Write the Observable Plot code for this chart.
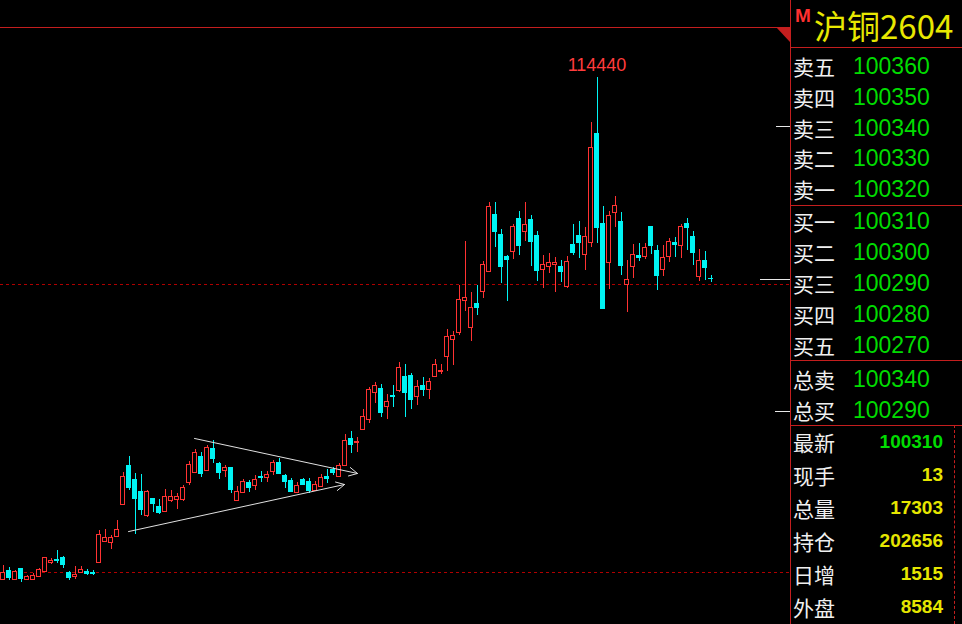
<!DOCTYPE html>
<html><head><meta charset="utf-8">
<script src="https://cdn.jsdelivr.net/npm/d3@7"></script>
<script src="https://cdn.jsdelivr.net/npm/@observablehq/plot@0.6"></script>
<style>
html,body{margin:0;padding:0;background:#000;width:962px;height:624px;overflow:hidden;}
#wrap{position:relative;width:962px;height:624px;background:#000;}
#chart{position:absolute;left:0;top:0;}
.ln{position:absolute;background:#c41e1e;}
.lab{position:absolute;left:793px;font-family:"Noto Sans CJK SC";font-size:21px;color:#f0f0f0;height:30px;line-height:30px;white-space:nowrap;}
.val{position:absolute;left:853px;font-family:"Liberation Sans",Arial,sans-serif;font-size:23px;color:#00dc00;height:30px;line-height:30px;}
.val2{position:absolute;right:19px;font-family:"Liberation Sans",Arial,sans-serif;font-weight:bold;font-size:19px;color:#e6e600;height:30px;line-height:30px;text-align:right;}
</style>
</head><body>
<div id="wrap"><div id="chart"></div></div>
<script>
// ---- candle data (price units) ----
const opens = [80270,80880,80270,81020,80270,80270,80470,80810,81360,81630,81770,80750,80410,80680,80810,80750,81360,82850,82720,83130,
85370,88020,87070,86250,84620,85780,85230,84890,85640,85710,85710,86800,87480,88630,87680,89180,88160,87680,87890,85640,
86120,86870,86660,87270,87140,87550,88230,87340,87000,86120,87070,86930,86320,86590,87270,87750,87270,88020,89860,89520,
90470,91150,92920,93260,92030,92780,93120,94070,94140,92710,93460,93190,94010,94350,95370,96590,97000,99240,97340,99040,
99850,101210,105090,103730,102230,102510,104820,103930,104750,103660,101350,101490,101690,101550,100130,103050,103660,102370,103120,110600,
104480,101760,105160,104610,100330,101490,102300,102170,104270,102640,101350,102230,103190,102980,104480,103590,100870,101960,100740];
const highs = [81220,81090,80880,81020,80540,80680,81020,81770,81700,82240,81830,80810,81150,81150,80950,80880,83600,83670,83260,84280,
87550,88630,87480,87410,86320,85780,85710,86390,86320,86120,86660,88290,89110,88910,89380,89720,88230,88020,87890,86590,
87070,87000,87340,87610,87610,88360,88500,87410,87140,86870,87140,87140,86930,87410,87750,87890,88160,90130,90330,89930,
91830,93330,93670,93530,92850,93460,95030,94890,94280,93800,94010,93940,95230,94890,97270,97130,100260,103250,99790,100260,
101890,105910,105910,104070,102300,104410,105290,105910,105020,103930,102300,102440,102170,101960,102230,104410,104610,104210,111350,114440,
105630,105290,106310,105230,101960,103050,103120,103120,104270,102980,102980,103460,103530,104410,104820,103930,102710,102570,100940];
const lows = [80270,80200,80270,80070,80200,80200,80470,80810,81290,81360,81020,80200,80270,80680,80540,80540,81360,82790,82310,83130,
85300,86320,83330,84620,84490,84830,84690,84890,85510,85030,85570,86660,87480,87210,87680,88160,87070,87210,86120,85640,
86120,86190,86320,86870,86870,87340,87410,86460,86190,86120,86660,86120,86250,86590,86800,87340,87210,88020,88840,88910,
90470,90880,92240,91290,91150,91970,92990,91290,91830,92100,92710,92510,94010,94210,94410,94820,96860,98490,96450,98220,
99380,101210,102850,100400,99170,102030,102300,103250,101550,100530,100060,101080,99790,100470,100060,102300,102100,101280,102850,103120,
98630,99990,104210,100940,98430,100740,101890,102030,102370,99920,100870,101830,102170,102100,102640,101620,100530,100600,100470];
const closes = [80680,80340,80750,80270,80410,80540,80950,81700,81560,81490,81220,80340,80610,80950,80610,80610,83330,83060,83060,83670,
87270,86460,85710,84960,86250,85370,84760,85910,85910,85850,86460,88090,88840,87410,89180,88430,87480,87820,86320,86250,
86930,86460,87070,87140,87410,88160,87410,86870,86190,86660,86660,86250,86730,87140,87070,87480,88020,89720,89380,89650,
91350,93190,93460,91560,92370,92650,94620,92920,92440,93330,93120,93730,94890,94480,96730,96860,99310,99380,98700,98700,
101690,105630,103870,101490,101960,104210,102910,104410,103190,101210,101690,101760,101760,101150,101830,102440,103120,103590,109580,104140,
98630,105020,105700,101550,100670,102370,102100,102780,102910,100870,102100,103190,102980,104210,104140,102440,101960,101420,100670];

// reference (dashed) price lines and right-edge price markers
const refLines = [100310, 80730];
const edgeMarks = [111070, 100670, 91690];
const edgeMarkLen = [14, 30, 15];
// annotation arrows (triangle pattern), x in bar index, y in price
const arrowsData = [
  {x1: 31.92, y1: 89860, x2: 59.08, y2: 87480},
  {x1: 20.92, y1: 83530, x2: 56.92, y2: 86730}
];
const peakLabel = {i: 99, p: 114440, text: "114440"};

// ---- order book panel data ----
const titleCode = "沪铜2604";
const bookLabels = ["卖五","卖四","卖三","卖二","卖一","买一","买二","买三","买四","买五","总卖","总买"];
const bookValues = ["100360","100350","100340","100330","100320","100310","100300","100290","100280","100270","100340","100290"];
const statLabels = ["最新","现手","总量","持仓","日增","外盘"];
const statValues = ["100310","13","17303","202656","1515","8584"];
const statColors = ["#00dc00","#e6e600","#e6e600","#e6e600","#e6e600","#e6e600"];

// ---- build chart ----
const candles = opens.map((o, i) => ({i, o, h: highs[i], l: lows[i], c: closes[i]}));
const up = candles.filter(d => d.c > d.o);
const dn = candles.filter(d => d.c <= d.o);
const RED = "#ff3232", CYAN = "#00f4f4";
const half = 2.5 / 6, halfHollow = 2 / 6;

const chart = Plot.plot({
  width: 790, height: 624, margin: 0,
  style: {background: "#000", overflow: "visible"},
  x: {type: "linear", domain: [-2.5 / 6, 787.5 / 6], range: [0, 790], axis: null},
  y: {type: "linear", domain: [77210, 119642], range: [624, 0], axis: null},
  marks: [
    Plot.ruleY(refLines, {y: d => d, stroke: "#b00000", strokeDasharray: "3,3", shapeRendering: "crispEdges"}),
    Plot.ruleY(edgeMarks, {y: d => d, x1: (d, k) => 787.5 / 6 - edgeMarkLen[k] / 6, x2: 787.5 / 6, stroke: "#e8e8e8", shapeRendering: "crispEdges"}),
    Plot.ruleX(dn, {x: "i", y1: "l", y2: "h", stroke: CYAN, shapeRendering: "crispEdges"}),
    Plot.rect(dn, {x1: d => d.i - half, x2: d => d.i + half, y1: "o", y2: "c", fill: CYAN, shapeRendering: "crispEdges"}),
    Plot.ruleX(up, {x: "i", y1: "l", y2: "h", stroke: RED, shapeRendering: "crispEdges"}),
    Plot.rect(up, {x1: d => d.i - halfHollow, x2: d => d.i + halfHollow, y1: "o", y2: "c", fill: "#000", stroke: RED, strokeWidth: 1, shapeRendering: "crispEdges"}),
    Plot.arrow(arrowsData, {x1: "x1", y1: "y1", x2: "x2", y2: "y2", stroke: "#e0e0e0", strokeWidth: 1, headLength: 14, headAngle: 55}),
    Plot.text([peakLabel], {x: "i", y: "p", text: "text", dy: -12, fill: "#ff3c3c", fontSize: 18, fontFamily: "Liberation Sans"})
  ]
});
document.getElementById("chart").appendChild(chart);

// ---- frame & panel ----
const wrap = document.getElementById("wrap");
function el(cls, css, txt) {
  const d = document.createElement("div");
  d.className = cls; d.style.cssText = css;
  if (txt != null) d.textContent = txt;
  wrap.appendChild(d); return d;
}
// frame lines
el("ln", "left:0;top:27px;width:790px;height:1px;");
el("", "position:absolute;left:776px;top:27px;width:0;height:0;border-top:15px solid #c41e1e;border-left:14px solid transparent;");
el("ln", "left:790px;top:0;width:1px;height:624px;");
[47, 205, 360, 425].forEach(y => el("ln", `left:790px;top:${y}px;width:172px;height:1px;`));
el("", "position:absolute;left:954px;top:425px;width:0;height:199px;border-left:1px dashed #c41e1e;");

// title
el("", "position:absolute;left:795px;top:5px;font-family:'Liberation Sans',Arial;font-weight:bold;font-size:19px;color:#ff3030;line-height:22px;", "M");
el("", "position:absolute;left:814px;top:4px;font-family:'Noto Sans CJK SC';font-size:33px;color:#e8e800;line-height:42px;white-space:nowrap;", titleCode);

// order book
const bookY = [66, 97, 127.5, 158, 189, 221, 252, 283, 314, 344.5, 378.5, 409.5];
bookLabels.forEach((t, k) => {
  el("lab", `top:${bookY[k] - 15}px;`, t);
  el("val", `top:${bookY[k] - 15}px;`, bookValues[k]);
});
// stats
statLabels.forEach((t, k) => {
  const cy = 442 + 33 * k;
  el("lab", `top:${cy - 15}px;`, t);
  el("val2", `top:${cy - 15}px;color:${statColors[k]};`, statValues[k]);
});
</script>
</body></html>
